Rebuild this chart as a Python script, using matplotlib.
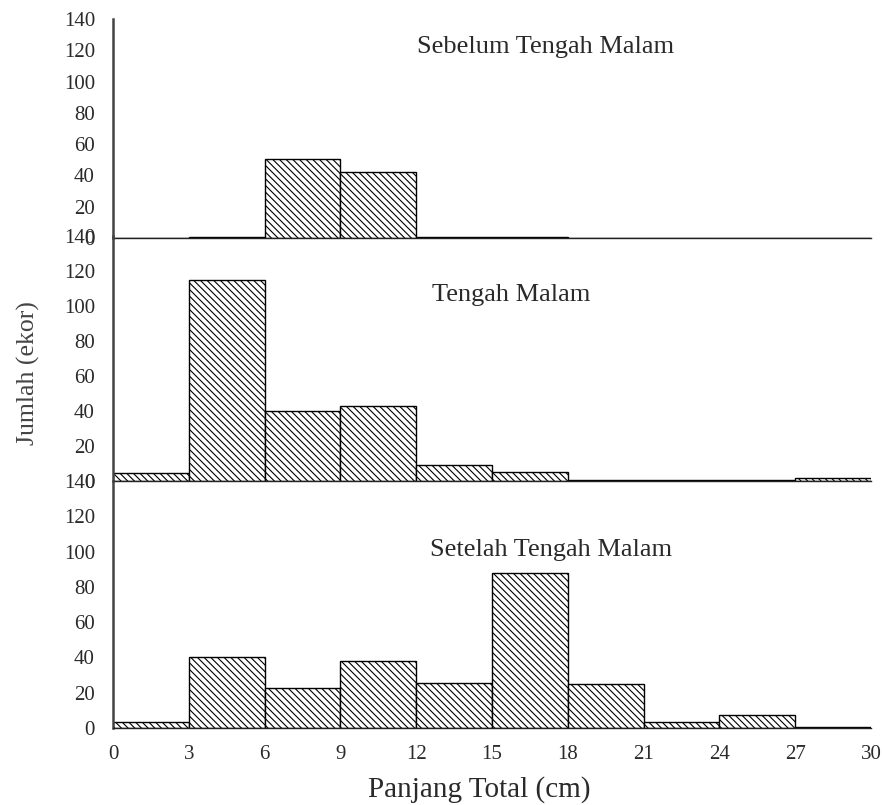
import numpy as np
from matplotlib import pyplot as plt

# ==============================================================================
#                                                                           DATA
# ==============================================================================
bin_edges = [0, 3, 6, 9, 12, 15, 18, 21, 24, 27, 30]
x_ticks = [0, 3, 6, 9, 12, 15, 18, 21, 24, 27, 30]
y_ticks = [0, 20, 40, 60, 80, 100, 120, 140]

sebelum = [0, 0.6, 50.5, 42, 0.6, 0.6, 0, 0, 0, 0]
tengah = [4.5, 115, 40, 43, 9, 5, 0.6, 0.6, 0.6, 2]
setelah = [3.4, 40, 22.7, 38, 25.6, 88, 25, 3.4, 7.4, 0.6]

panel_titles = ["Sebelum Tengah Malam", "Tengah Malam", "Setelah Tengah Malam"]
panel_data = [sebelum, tengah, setelah]

# ==============================================================================
#                                                                           PLOT
# ==============================================================================
plt.rcParams['font.family'] = ['Liberation Serif', 'DejaVu Serif']
plt.rcParams['hatch.linewidth'] = 0.8
text_color = '#2a2a2a'

fig = plt.figure(figsize=(8.82, 8.05), dpi=100)
W, H = 882.0, 805.0
left, right = 113 / W, 871 / W
# panel extents in pixels (top, bottom)
extents = [(19, 238), (236, 481), (481, 728)]
title_pos = [(0.571, 0.872), (0.525, 0.759), (0.578, 0.72)]

edges = np.array(bin_edges, dtype=float)
widths = np.diff(edges)

axes = []
for i, (top, bot) in enumerate(extents):
    ax = fig.add_axes([left, 1 - bot / H, right - left, (bot - top) / H])
    ax.patch.set_alpha(0)
    ax.bar(edges[:-1], panel_data[i], width=widths, align='edge',
           color='white', edgecolor='black', linewidth=1.0, hatch='\\\\\\\\\\')
    ax.set_xlim(0, 30)
    ax.set_ylim(0, 140)
    ax.set_yticks(y_ticks)
    ax.tick_params(axis='both', length=0, labelsize=15, labelcolor=text_color)
    ax.tick_params(axis='y', pad=13)
    ax.tick_params(axis='x', pad=12)
    ax.spines['top'].set_visible(False)
    ax.spines['right'].set_visible(False)
    ax.spines['left'].set_color('#444444')
    ax.spines['left'].set_linewidth(1.8)
    ax.spines['bottom'].set_color('#222222')
    ax.spines['bottom'].set_linewidth(1.0)
    ax.set_xticks(x_ticks)
    if i < 2:
        ax.set_xticklabels([])
    ax.text(title_pos[i][0], title_pos[i][1], panel_titles[i],
            transform=ax.transAxes, ha='center', va='center', fontsize=19,
            color=text_color)
    axes.append(ax)

fig.text(479 / W, 1 - 790 / H, "Panjang Total (cm)", ha='center', va='center',
         fontsize=21, color=text_color)
fig.text(28 / W, 1 - 373 / H, "Jumlah (ekor)", rotation=90,
         ha='center', va='center', fontsize=18.5, color='#444444')

fig.savefig("out.png", dpi=100)
